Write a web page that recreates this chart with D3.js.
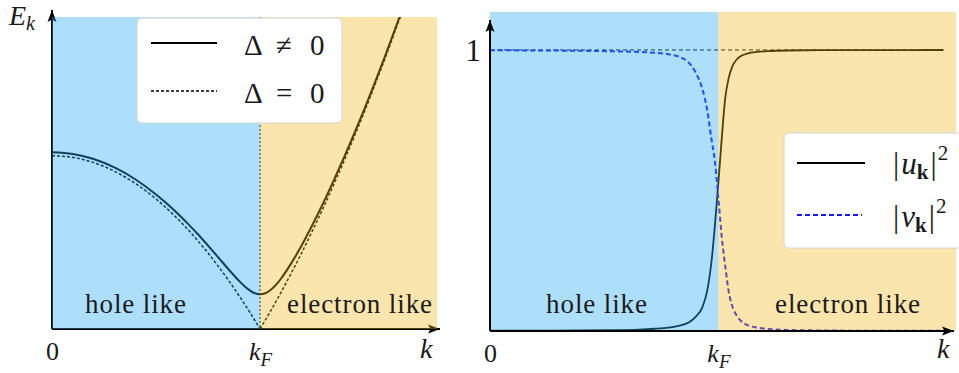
<!DOCTYPE html>
<html>
<head>
<meta charset="utf-8">
<script src="https://cdn.jsdelivr.net/npm/d3@7"></script>
<style>
html, body { margin: 0; padding: 0; background: #fff; }
svg { display: block; }
svg text { font-family: "Liberation Serif", "DejaVu Serif", serif; }
</style>
</head>
<body>
<svg id="chart" width="959" height="373"></svg>
<script>
"use strict";

// left panel: quasiparticle energy, k in units of kF
var kLeft = [0, 0.1, 0.2, 0.3, 0.4, 0.5, 0.6, 0.65, 0.7, 0.75, 0.8, 0.85, 0.9, 0.925, 0.95, 0.975, 1, 1.025, 1.05, 1.075, 1.1, 1.15, 1.2, 1.25, 1.3, 1.35, 1.4, 1.45, 1.5, 1.55, 1.6, 1.68];
var energyGap = [1.020, 1.010, 0.981, 0.932, 0.864, 0.776, 0.671, 0.611, 0.548, 0.481, 0.412, 0.342, 0.276, 0.247, 0.223, 0.206, 0.2, 0.206, 0.225, 0.253, 0.290, 0.380, 0.483, 0.597, 0.718, 0.847, 0.981, 1.121, 1.266, 1.417, 1.573, 1.833];
var energyNoGap = [1, 0.99, 0.96, 0.91, 0.84, 0.75, 0.64, 0.578, 0.51, 0.438, 0.36, 0.278, 0.19, 0.144, 0.098, 0.049, 0, 0.051, 0.103, 0.156, 0.21, 0.323, 0.44, 0.563, 0.69, 0.823, 0.96, 1.103, 1.25, 1.403, 1.56, 1.822];

// right panel: coherence factors
var kRight = [0, 0.2, 0.4, 0.55, 0.65, 0.72, 0.78, 0.83, 0.87, 0.9, 0.93, 0.95, 0.97, 0.985, 1, 1.015, 1.03, 1.045, 1.06, 1.08, 1.1, 1.13, 1.17, 1.22, 1.3, 1.45, 1.65, 1.85, 1.985];
var uSquared = [0.001, 0.0015, 0.002, 0.003, 0.005, 0.008, 0.012, 0.019, 0.03, 0.05, 0.085, 0.14, 0.25, 0.38, 0.53, 0.69, 0.83, 0.9, 0.94, 0.966, 0.979, 0.988, 0.993, 0.996, 0.998, 0.999, 0.9995, 0.9997, 0.9998];
var vSquared = [0.999, 0.998, 0.997, 0.995, 0.993, 0.99, 0.985, 0.975, 0.955, 0.92, 0.86, 0.79, 0.68, 0.6, 0.47, 0.33, 0.23, 0.14, 0.09, 0.055, 0.035, 0.02, 0.012, 0.007, 0.004, 0.002, 0.001, 0.0007, 0.0005];

var kTicks = [0, 1];
var kTickLabels = ["0", "kF"];
var rightYTicks = [1];

var serif = "'Liberation Serif', 'DejaVu Serif', serif";
var svg = d3.select("#chart").style("font-family", serif);
var textColor = "#1a1a1a";
var blueShade = "rgba(40,170,245,0.38)";
var orangeShade = "rgba(240,180,20,0.35)";

var defs = svg.append("defs");
defs.append("marker")
    .attr("id", "arrow")
    .attr("markerUnits", "userSpaceOnUse")
    .attr("markerWidth", 13)
    .attr("markerHeight", 10)
    .attr("refX", 12)
    .attr("refY", 5)
    .attr("orient", "auto")
    .append("path")
        .attr("d", "M0,0.5 L12,5 L0,9.5 L2.5,5 z")
        .attr("fill", "#000");

function kLabel(sel, label)
{
    // "kF" -> italic k with subscript F
    sel.text(null);
    if (label === "kF") {
        sel.append("tspan").attr("font-style", "italic").text("k");
        sel.append("tspan").attr("font-style", "italic").attr("font-size", 19).attr("dy", 6).text("F");
    } else {
        sel.text(label);
    }
}

function bottomAxis(g, x, y0)
{
    var axis = d3.axisBottom(x).tickValues(kTicks).tickSize(0).tickFormat(function(d, i) { return kTickLabels[i]; });
    g.attr("transform", "translate(0," + y0 + ")").call(axis);
    g.select(".domain").remove();
    g.attr("font-family", null).attr("font-size", null);
    g.selectAll(".tick text")
        .attr("y", 31)
        .attr("dy", null)
        .attr("font-size", 26)
        .style("font-family", serif)
        .attr("fill", textColor)
        .each(function(d, i) { kLabel(d3.select(this), kTickLabels[i]); });
}

function addText(g, x, y, size)
{
    return g.append("text")
        .attr("x", x).attr("y", y)
        .attr("font-size", size)
        .style("font-family", serif)
        .attr("fill", textColor);
}

function regionText(g, x, y, label)
{
    addText(g, x, y, 27).attr("text-anchor", "middle").attr("letter-spacing", 0.9).text(label);
}

// ---------------- left panel ----------------
var xL = d3.scaleLinear().domain([0, 1.85]).range([52, 437]);
var yL = d3.scaleLinear().domain([0, 1.8]).range([329, 17]);

defs.append("clipPath").attr("id", "clipL")
    .append("rect")
        .attr("x", xL(0)).attr("y", yL(1.8))
        .attr("width", xL(1.85) - xL(0)).attr("height", yL(0) - yL(1.8) + 2);

var left = svg.append("g").attr("class", "panel-left");
var lineL = d3.line()
    .x(function(d) { return xL(d[0]); })
    .y(function(d) { return yL(d[1]); })
    .curve(d3.curveMonotoneX);

var curvesL = left.append("g").attr("clip-path", "url(#clipL)");

// Fermi momentum marker
curvesL.append("line")
    .attr("x1", xL(1)).attr("x2", xL(1))
    .attr("y1", yL(1.8)).attr("y2", yL(0))
    .attr("stroke", "#000").attr("stroke-width", 1).attr("stroke-dasharray", "2,2");

var gapPts = d3.zip(kLeft, energyGap);
var noGapPts = d3.zip(kLeft, energyNoGap);

curvesL.append("path")
    .attr("d", lineL(gapPts))
    .attr("fill", "none").attr("stroke", "#000").attr("stroke-width", 2);

// the gapless branch has a cusp at kF, so draw each side on its own
[noGapPts.filter(function(d) { return d[0] <= 1; }), noGapPts.filter(function(d) { return d[0] >= 1; })]
    .forEach(function(seg) {
        curvesL.append("path")
            .attr("d", lineL(seg))
            .attr("fill", "none").attr("stroke", "#000").attr("stroke-width", 1.5)
            .attr("stroke-dasharray", "3,2");
    });

// axes (under the shading in this panel)
left.append("line")
    .attr("x1", xL(0)).attr("y1", yL(0)).attr("x2", xL(0)).attr("y2", 10)
    .attr("stroke", "#000").attr("stroke-width", 2).attr("marker-end", "url(#arrow)");
left.append("line")
    .attr("x1", xL(0)).attr("y1", yL(0)).attr("x2", 440).attr("y2", yL(0))
    .attr("stroke", "#000").attr("stroke-width", 2).attr("marker-end", "url(#arrow)");

left.append("rect")
    .attr("x", xL(0)).attr("y", yL(1.8))
    .attr("width", xL(1) - xL(0)).attr("height", yL(0) - yL(1.8))
    .attr("fill", blueShade);
left.append("rect")
    .attr("x", xL(1)).attr("y", yL(1.8))
    .attr("width", xL(1.85) - xL(1)).attr("height", yL(0) - yL(1.8))
    .attr("fill", orangeShade);

bottomAxis(left.append("g"), xL, yL(0));

addText(left, 420, 358, 28).attr("font-style", "italic").text("k");

var eLab = addText(left, 9, 25, 28).attr("font-style", "italic");
eLab.append("tspan").text("E");
eLab.append("tspan").attr("font-size", 20).attr("dy", 5).text("k");

regionText(left, 136, 313, "hole like");
regionText(left, 360, 313, "electron like");

// legend
var legL = left.append("g");
legL.append("rect")
    .attr("x", 137).attr("y", 18).attr("width", 205).attr("height", 105)
    .attr("rx", 5).attr("fill", "#fff").attr("stroke", "#d4d4d4");
legL.append("line")
    .attr("x1", 151).attr("x2", 217).attr("y1", 43).attr("y2", 43)
    .attr("stroke", "#000").attr("stroke-width", 2);
legL.append("line")
    .attr("x1", 151).attr("x2", 217).attr("y1", 91).attr("y2", 91)
    .attr("stroke", "#000").attr("stroke-width", 1.5).attr("stroke-dasharray", "3,2");
[{y: 55, rel: "≠"}, {y: 103, rel: "="}].forEach(function(e) {
    var t = addText(legL, 0, e.y, 29);
    t.append("tspan").attr("x", 244).text("Δ");
    t.append("tspan").attr("x", 276).text(e.rel);
    t.append("tspan").attr("x", 310).text("0");
});

// ---------------- right panel ----------------
var xR = d3.scaleLinear().domain([0, 2.04]).range([490, 956]);
var yR = d3.scaleLinear().domain([0, 1.135]).range([331, 12]);

var right = svg.append("g").attr("class", "panel-right");
var lineR = d3.line()
    .x(function(d) { return xR(d[0]); })
    .y(function(d) { return yR(d[1]); })
    .curve(d3.curveMonotoneX);

right.append("line")
    .attr("x1", xR(0)).attr("x2", xR(1.985))
    .attr("y1", yR(1)).attr("y2", yR(1))
    .attr("stroke", "#000").attr("stroke-width", 1).attr("stroke-dasharray", "4,3");

right.append("path")
    .attr("d", lineR(d3.zip(kRight, uSquared)))
    .attr("fill", "none").attr("stroke", "#000").attr("stroke-width", 1.8);
right.append("path")
    .attr("d", lineR(d3.zip(kRight, vSquared)))
    .attr("fill", "none").attr("stroke", "#1515ff").attr("stroke-width", 2)
    .attr("stroke-dasharray", "5,3");

right.append("rect")
    .attr("x", xR(0)).attr("y", yR(1.135))
    .attr("width", xR(1) - xR(0)).attr("height", yR(0) - yR(1.135))
    .attr("fill", blueShade);
right.append("rect")
    .attr("x", xR(1)).attr("y", yR(1.135))
    .attr("width", xR(2.04) - xR(1)).attr("height", yR(0) - yR(1.135))
    .attr("fill", orangeShade);

// axes drawn above the shading here
right.append("line")
    .attr("x1", xR(0)).attr("y1", yR(0)).attr("x2", xR(0)).attr("y2", 20)
    .attr("stroke", "#000").attr("stroke-width", 2).attr("marker-end", "url(#arrow)");
right.append("line")
    .attr("x1", xR(0)).attr("y1", yR(0)).attr("x2", 954).attr("y2", yR(0))
    .attr("stroke", "#000").attr("stroke-width", 2).attr("marker-end", "url(#arrow)");

bottomAxis(right.append("g"), xR, yR(0));

var yAxisR = right.append("g")
    .attr("transform", "translate(" + xR(0) + ",0)")
    .call(d3.axisLeft(yR).tickValues(rightYTicks).tickSize(0).tickPadding(9).tickFormat(d3.format("d")));
yAxisR.select(".domain").remove();
yAxisR.attr("font-family", null).attr("font-size", null);
yAxisR.selectAll(".tick text")
    .attr("font-size", 31).attr("fill", textColor).attr("dy", "0.33em")
    .style("font-family", serif);

addText(right, 937, 358, 28).attr("font-style", "italic").text("k");

regionText(right, 597, 313, "hole like");
regionText(right, 848, 313, "electron like");

var legR = right.append("g");
legR.append("rect")
    .attr("x", 784).attr("y", 133).attr("width", 190).attr("height", 115)
    .attr("rx", 5).attr("fill", "#fff").attr("stroke", "#d4d4d4");
legR.append("line")
    .attr("x1", 797).attr("x2", 865).attr("y1", 163).attr("y2", 163)
    .attr("stroke", "#000").attr("stroke-width", 1.8);
legR.append("line")
    .attr("x1", 797).attr("x2", 862).attr("y1", 215).attr("y2", 215)
    .attr("stroke", "#1515ff").attr("stroke-width", 2).attr("stroke-dasharray", "5,3");
[{y: 174, v: "u"}, {y: 227, v: "v"}].forEach(function(e) {
    var t = addText(legR, 893, e.y, 31);
    t.append("tspan").text("|");
    t.append("tspan").attr("font-style", "italic").attr("dx", 2).text(e.v);
    t.append("tspan").attr("font-weight", "bold").attr("font-size", 21).attr("dy", 5).text("k");
    t.append("tspan").attr("dy", -5).attr("dx", 2).text("|");
    t.append("tspan").attr("font-size", 21).attr("dy", -14).attr("dx", 1).text("2");
});
</script>
</body>
</html>
